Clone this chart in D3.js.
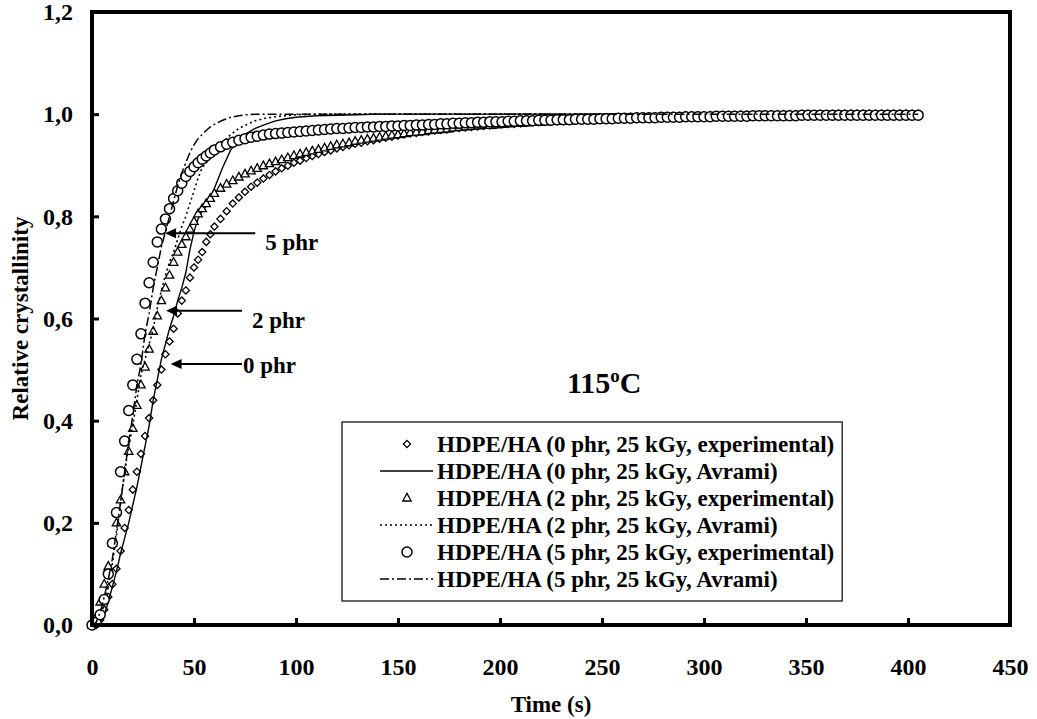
<!DOCTYPE html>
<html>
<head>
<meta charset="utf-8">
<script src="https://cdnjs.cloudflare.com/ajax/libs/d3/7.8.5/d3.min.js"></script>
<style>
    body { margin: 0; background: #fff; }
    text { font-family: "Liberation Serif", "Times New Roman", serif; font-weight: bold; fill: #000; }
</style>
</head>
<body>
<div id="chart"></div>
<script>
// sample times of the DSC runs (s)
var timeSec = [0, 2, 4, 6, 8, 10, 12, 14, 16, 18, 20, 22, 24, 26, 28, 30, 32, 34, 36, 38, 40, 42, 44, 46, 48, 50, 52, 54, 56, 58, 60,
    63, 66, 69, 72, 75, 78, 81, 84, 87, 90, 93, 96, 99, 102, 105, 108, 111, 114, 117, 120,
    123, 126, 129, 132, 135, 138, 141, 144, 147, 150, 153, 156, 159, 162, 165, 168, 171, 174, 177, 180,
    183, 186, 189, 192, 195, 198, 201, 204, 207, 210, 213, 216, 219, 222, 225, 228, 231, 234, 237, 240,
    243, 246, 249, 252, 255, 258, 261, 264, 267, 270, 273, 276, 279, 282, 285, 288, 291, 294, 297, 300,
    303, 306, 309, 312, 315, 318, 321, 324, 327, 330, 333, 336, 339, 342, 345, 348, 351, 354, 357, 360,
    363, 366, 369, 372, 375, 378, 381, 384, 387, 390, 393, 396, 399, 402, 405];

var exp0phr = [0, 0, 0.01, 0.03, 0.055, 0.08, 0.11, 0.145, 0.19, 0.225, 0.265, 0.30, 0.335, 0.37, 0.405, 0.44, 0.47, 0.50, 0.53, 0.555, 0.58, 0.61, 0.635, 0.655, 0.68, 0.70, 0.715, 0.73, 0.75, 0.765, 0.78,
    0.795, 0.81, 0.825, 0.837, 0.848, 0.858, 0.866, 0.874, 0.881, 0.888, 0.894, 0.899, 0.905, 0.909, 0.914, 0.918, 0.922, 0.926, 0.929, 0.933,
    0.936, 0.939, 0.942, 0.944, 0.947, 0.949, 0.952, 0.954, 0.956, 0.958, 0.960, 0.962, 0.963, 0.965, 0.966, 0.968, 0.969, 0.970, 0.972, 0.973,
    0.974, 0.975, 0.976, 0.977, 0.978, 0.979, 0.980, 0.981, 0.981, 0.982, 0.983, 0.984, 0.984, 0.985, 0.985, 0.986, 0.987, 0.987, 0.988, 0.988,
    0.989, 0.989, 0.990, 0.990, 0.990, 0.991, 0.991, 0.992, 0.992, 0.992, 0.993, 0.993, 0.993, 0.994, 0.994, 0.994, 0.994, 0.995, 0.995, 0.995,
    0.995, 0.996, 0.996, 0.996, 0.996, 0.996, 0.997, 0.997, 0.997, 0.997, 0.997, 0.997, 0.997, 0.998, 0.998, 0.998, 0.998, 0.998, 0.998, 0.998,
    0.998, 0.998, 0.998, 0.999, 0.999, 0.999, 0.999, 0.999, 0.999, 0.999, 0.999, 0.999, 0.999, 0.999, 0.999];

var exp2phr = [0, 0.015, 0.045, 0.08, 0.115, 0.16, 0.20, 0.245, 0.30, 0.34, 0.385, 0.43, 0.47, 0.505, 0.54, 0.575, 0.605, 0.635, 0.66, 0.685, 0.71, 0.73, 0.745, 0.76, 0.775, 0.79, 0.805, 0.815, 0.825, 0.835, 0.845,
    0.855, 0.863, 0.87, 0.877, 0.883, 0.889, 0.894, 0.899, 0.903, 0.907, 0.911, 0.915, 0.919, 0.922, 0.925, 0.928, 0.931, 0.934, 0.937, 0.940,
    0.942, 0.944, 0.947, 0.949, 0.951, 0.953, 0.955, 0.957, 0.959, 0.960, 0.962, 0.964, 0.965, 0.966, 0.968, 0.969, 0.970, 0.971, 0.973, 0.974,
    0.975, 0.976, 0.977, 0.978, 0.978, 0.979, 0.980, 0.981, 0.982, 0.982, 0.983, 0.984, 0.984, 0.985, 0.986, 0.986, 0.987, 0.987, 0.988, 0.988,
    0.989, 0.989, 0.990, 0.990, 0.991, 0.991, 0.991, 0.992, 0.992, 0.992, 0.993, 0.993, 0.993, 0.994, 0.994, 0.994, 0.995, 0.995, 0.995, 0.995,
    0.996, 0.996, 0.996, 0.996, 0.996, 0.997, 0.997, 0.997, 0.997, 0.997, 0.997, 0.998, 0.998, 0.998, 0.998, 0.998, 0.998, 0.998, 0.998, 0.998,
    0.998, 0.999, 0.999, 0.999, 0.999, 0.999, 0.999, 0.999, 0.999, 0.999, 0.999, 0.999, 0.999, 0.999, 0.999];

var exp5phr = [0, 0.005, 0.02, 0.05, 0.10, 0.16, 0.22, 0.30, 0.36, 0.42, 0.47, 0.52, 0.57, 0.63, 0.67, 0.71, 0.75, 0.775, 0.795, 0.815, 0.835, 0.85, 0.865, 0.878, 0.888, 0.897, 0.905, 0.912, 0.918, 0.924, 0.93,
    0.936, 0.941, 0.945, 0.949, 0.952, 0.955, 0.957, 0.959, 0.961, 0.962, 0.963, 0.964, 0.965, 0.966, 0.967, 0.968, 0.969, 0.970, 0.971, 0.972,
    0.972, 0.973, 0.974, 0.974, 0.975, 0.975, 0.976, 0.976, 0.977, 0.977, 0.978, 0.978, 0.979, 0.979, 0.980, 0.980, 0.981, 0.981, 0.982, 0.982,
    0.983, 0.983, 0.984, 0.984, 0.985, 0.985, 0.985, 0.986, 0.986, 0.987, 0.987, 0.987, 0.988, 0.988, 0.988, 0.989, 0.989, 0.989, 0.990, 0.990,
    0.990, 0.990, 0.991, 0.991, 0.991, 0.992, 0.992, 0.992, 0.993, 0.993, 0.993, 0.993, 0.994, 0.994, 0.994, 0.994, 0.995, 0.995, 0.995, 0.995,
    0.995, 0.996, 0.996, 0.996, 0.996, 0.996, 0.996, 0.997, 0.997, 0.997, 0.997, 0.997, 0.997, 0.997, 0.997, 0.998, 0.998, 0.998, 0.998, 0.998,
    0.998, 0.998, 0.998, 0.998, 0.998, 0.998, 0.998, 0.998, 0.998, 0.998, 0.998, 0.998, 0.998, 0.998, 0.998];

// Avrami fits
var avramiTime = [0, 2, 4, 6, 8, 10, 12, 14, 16, 18, 20, 22, 24, 26, 28, 30, 32, 34, 36, 38, 40, 42, 44, 46, 48, 50, 52, 54, 56, 58, 60,
    64, 68, 72, 76, 80, 85, 90, 95, 100, 110, 120, 130, 140, 150, 175, 200, 250, 300, 350, 405];

var avrami0phr = [0, 0, 0.005, 0.02, 0.045, 0.075, 0.105, 0.14, 0.17, 0.20, 0.235, 0.27, 0.31, 0.35, 0.39, 0.44, 0.48, 0.52, 0.55, 0.58, 0.605, 0.635, 0.66, 0.69, 0.735, 0.77, 0.795, 0.81, 0.82, 0.835, 0.855,
    0.895, 0.93, 0.95, 0.963, 0.972, 0.98, 0.987, 0.991, 0.994, 0.997, 0.998, 0.999, 1, 1, 1, 1, 1, 1, 1, 1];

var avrami2phr = [0, 0.005, 0.016, 0.04, 0.075, 0.12, 0.175, 0.24, 0.30, 0.35, 0.39, 0.44, 0.49, 0.52, 0.55, 0.58, 0.62, 0.655, 0.685, 0.71, 0.73, 0.755, 0.78, 0.80, 0.825, 0.85, 0.875, 0.895, 0.905, 0.915, 0.925,
    0.945, 0.96, 0.972, 0.98, 0.987, 0.992, 0.995, 0.997, 0.999, 1, 1, 1, 1, 1, 1, 1, 1, 1, 1, 1];

var avrami5phr = [0, 0.005, 0.025, 0.055, 0.09, 0.13, 0.185, 0.24, 0.30, 0.36, 0.41, 0.47, 0.51, 0.57, 0.61, 0.66, 0.70, 0.74, 0.77, 0.80, 0.83, 0.86, 0.885, 0.905, 0.925, 0.94, 0.952, 0.96, 0.968, 0.975, 0.98,
    0.988, 0.994, 0.997, 0.999, 1, 1, 1, 1, 1, 1, 1, 1, 1, 1, 1, 1, 1, 1, 1, 1];

var xTicks = [0, 50, 100, 150, 200, 250, 300, 350, 400, 450];
var yTicks = [0, 0.2, 0.4, 0.6, 0.8, 1.0, 1.2];

var legendLabels = [
    "HDPE/HA (0 phr, 25 kGy, experimental)",
    "HDPE/HA (0 phr, 25 kGy, Avrami)",
    "HDPE/HA (2 phr, 25 kGy, experimental)",
    "HDPE/HA (2 phr, 25 kGy, Avrami)",
    "HDPE/HA (5 phr, 25 kGy, experimental)",
    "HDPE/HA (5 phr, 25 kGy, Avrami)"
];

// arrow notes: label, point the arrow touches [t, X], where the arrow starts (t)
var noteLabels = ["5 phr", "2 phr", "0 phr"];
var noteTips = [[35.8, 0.767], [36.3, 0.615], [38.5, 0.511]];
var noteTails = [80, 73.5, 73.5];

var width = 1037, height = 719;
var plot = {left: 92, right: 1010, top: 12, bottom: 625};

var svg = d3.select("#chart").append("svg")
    .attr("width", width)
    .attr("height", height);

var x = d3.scaleLinear().domain([0, 450]).range([plot.left, plot.right]);
var y = d3.scaleLinear().domain([0, 1.2]).range([plot.bottom, plot.top]);

var shapes = {
    diamond: "M0,-3.6L3.6,0L0,3.6L-3.6,0Z",
    triangle: "M0,-4.6L4.2,3L-4.2,3Z",
    circle: d3.symbol().type(d3.symbolCircle).size(Math.PI * 5 * 5)()
};

var series = [
    {type: "exp", t: timeSec, v: exp0phr, shape: "diamond", sw: 1.3},
    {type: "fit", t: avramiTime, v: avrami0phr, dash: null, sw: 1.4},
    {type: "exp", t: timeSec, v: exp2phr, shape: "triangle", sw: 1.3},
    {type: "fit", t: avramiTime, v: avrami2phr, dash: "2,3", sw: 1.6},
    {type: "exp", t: timeSec, v: exp5phr, shape: "circle", sw: 1.5},
    {type: "fit", t: avramiTime, v: avrami5phr, dash: "9,3,2,3", sw: 1.5}
];

var line = d3.line()
    .x(function (d) { return x(d[0]); })
    .y(function (d) { return y(d[1]); });

// axes
var xAxis = d3.axisBottom(x)
    .tickValues(xTicks)
    .tickSizeInner(-7)
    .tickSizeOuter(0)
    .tickPadding(33)
    .tickFormat(d3.format("d"));

var yAxis = d3.axisLeft(y)
    .tickValues(yTicks)
    .tickSizeInner(-7)
    .tickSizeOuter(0)
    .tickPadding(19)
    .tickFormat(function (d) { return d3.format(".1f")(d).replace(".", ","); });

var gx = svg.append("g")
    .attr("transform", "translate(0," + plot.bottom + ")")
    .call(xAxis);
var gy = svg.append("g")
    .attr("transform", "translate(" + plot.left + ",0)")
    .call(yAxis);

[gx, gy].forEach(function (g) {
    g.select(".domain").remove();
    g.selectAll(".tick line").attr("stroke", "#000").attr("stroke-width", 3);
    g.selectAll(".tick text")
        .style("font-family", '"Liberation Serif", "Times New Roman", serif')
        .style("font-weight", "bold")
        .style("font-size", "24px")
        .attr("fill", "#000");
});

// data
series.forEach(function (s) {
    var pts = s.t.map(function (t, i) { return [t, s.v[i]]; });
    if (s.type === "fit") {
        svg.append("path")
            .datum(pts)
            .attr("fill", "none")
            .attr("stroke", "#000")
            .attr("stroke-width", s.sw)
            .attr("stroke-dasharray", s.dash)
            .attr("d", line);
    } else {
        svg.append("g").selectAll("path")
            .data(pts)
            .enter().append("path")
            .attr("transform", function (d) { return "translate(" + x(d[0]) + "," + y(d[1]) + ")"; })
            .attr("d", shapes[s.shape])
            .attr("fill", "#fff")
            .attr("stroke", "#000")
            .attr("stroke-width", s.sw);
    }
});

// frame
svg.append("rect")
    .attr("x", plot.left)
    .attr("y", plot.top)
    .attr("width", plot.right - plot.left)
    .attr("height", plot.bottom - plot.top)
    .attr("fill", "none")
    .attr("stroke", "#000")
    .attr("stroke-width", 4);

// arrow notes
noteLabels.forEach(function (lab, i) {
    var tx = x(noteTips[i][0]), ty = y(noteTips[i][1]), sx = x(noteTails[i]);
    svg.append("line")
        .attr("x1", sx).attr("x2", tx + 8)
        .attr("y1", ty).attr("y2", ty)
        .attr("stroke", "#000")
        .attr("stroke-width", 2);
    svg.append("path")
        .attr("d", "M" + tx + "," + ty + "L" + (tx + 11) + "," + (ty - 5) + "L" + (tx + 11) + "," + (ty + 5) + "Z")
        .attr("fill", "#000");
    svg.append("text")
        .attr("x", sx + (i === 2 ? 1 : 10))
        .attr("y", ty + (i === 2 ? 1 : 9))
        .attr("dy", "0.35em")
        .style("font-size", "23px")
        .text(lab);
});

// temperature label
var temp = svg.append("text")
    .attr("x", 567)
    .attr("y", 393)
    .style("font-size", "30px");
temp.append("tspan").text("115");
temp.append("tspan").attr("dy", -11).style("font-size", "19px").text("o");
temp.append("tspan").attr("dy", 11).text("C");

// legend
var legend = svg.append("g").attr("transform", "translate(342,422)");
var legendBox = legend.append("rect")
    .attr("height", 179)
    .attr("fill", "#fff")
    .attr("stroke", "#000")
    .attr("stroke-width", 1.2);

var rows = legend.selectAll(".row")
    .data(series)
    .enter().append("g")
    .attr("class", "row")
    .attr("transform", function (d, i) { return "translate(0," + (22 + i * 27) + ")"; });

rows.each(function (s) {
    var g = d3.select(this);
    if (s.type === "fit") {
        g.append("line")
            .attr("x1", 38).attr("x2", 91)
            .attr("stroke", "#000")
            .attr("stroke-width", s.sw)
            .attr("stroke-dasharray", s.dash);
    } else {
        g.append("path")
            .attr("transform", "translate(65,0)")
            .attr("d", shapes[s.shape])
            .attr("fill", "#fff")
            .attr("stroke", "#000")
            .attr("stroke-width", s.sw);
    }
});

rows.append("text")
    .attr("x", 95)
    .attr("dy", "0.35em")
    .style("font-size", "23px")
    .text(function (d, i) { return legendLabels[i]; });

var maxW = d3.max(rows.selectAll("text").nodes(), function (n) { return n.getComputedTextLength(); });
legendBox.attr("width", 95 + maxW + 8);

// axis titles
svg.append("text")
    .attr("x", (plot.left + plot.right) / 2)
    .attr("y", 712)
    .attr("text-anchor", "middle")
    .style("font-size", "23px")
    .text("Time (s)");

svg.append("text")
    .attr("transform", "translate(28," + (plot.top + plot.bottom) / 2 + ") rotate(-90)")
    .attr("text-anchor", "middle")
    .style("font-size", "23px")
    .text("Relative crystallinity");
</script>
</body>
</html>
